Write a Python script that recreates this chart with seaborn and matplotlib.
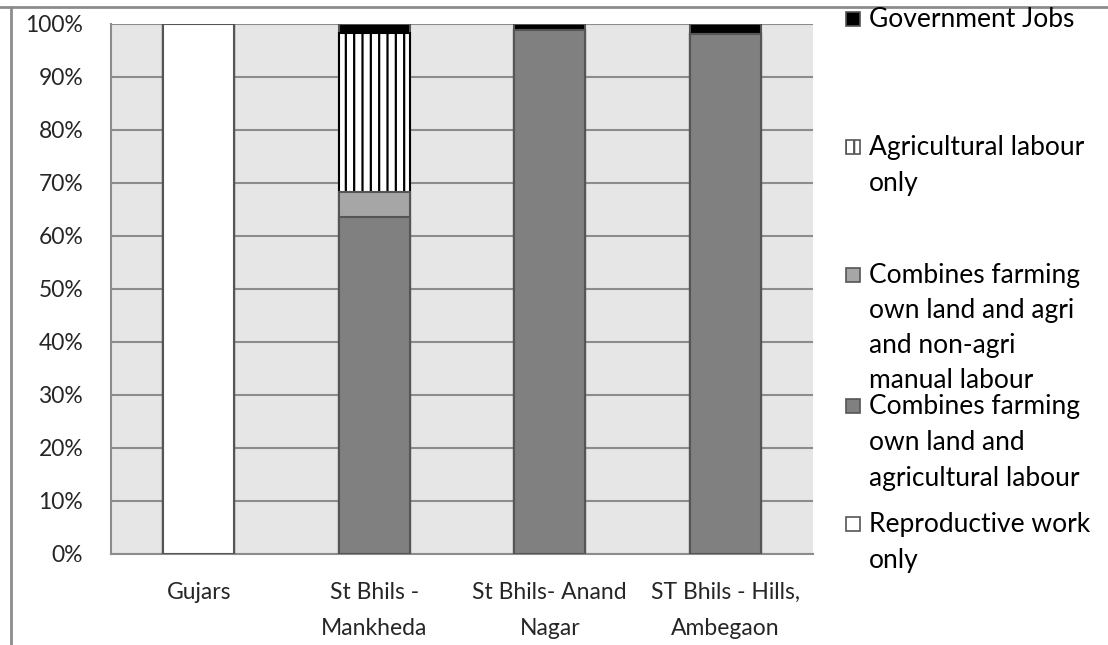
import matplotlib
matplotlib.use("Agg")
import matplotlib.pyplot as plt
import seaborn as sns
import pandas as pd
from matplotlib.patches import Rectangle
from matplotlib.lines import Line2D

# data (percent of women in each group)
groups = ["Gujars", "St Bhils -\nMankheda", "St Bhils- Anand\nNagar", "ST Bhils - Hills,\nAmbegaon"]
reproductive = [100.0, 0.0, 0.0, 0.0]
farm_agri = [0.0, 63.6, 98.9, 98.1]
farm_nonagri = [0.0, 4.7, 0.0, 0.0]
agri_only = [0.0, 30.0, 0.0, 0.0]
govt_jobs = [0.0, 1.7, 1.1, 1.9]

legend_labels = [
    ["Government Jobs"],
    ["Agricultural labour", "only"],
    ["Combines farming", "own land and agri", "and non-agri", "manual labour"],
    ["Combines farming", "own land and", "agricultural labour"],
    ["Reproductive work", "only"],
]

sns.set_style("white")
plt.rcParams["font.family"] = ["Lato", "DejaVu Sans"]
plt.rcParams["hatch.linewidth"] = 1.6

df = pd.DataFrame({
    "group": groups,
    "reproductive": reproductive,
    "farm_agri": farm_agri,
    "farm_nonagri": farm_nonagri,
    "agri_only": agri_only,
    "govt": govt_jobs,
})
# cumulative tops, drawn from the tallest down so each layer shows its own slice
df["c1"] = df["reproductive"]
df["c2"] = df["c1"] + df["farm_agri"]
df["c3"] = df["c2"] + df["farm_nonagri"]
df["c4"] = df["c3"] + df["agri_only"]
df["c5"] = df["c4"] + df["govt"]

W, H = 1108, 645
fig = plt.figure(figsize=(W / 100, H / 100), dpi=100)
ax = fig.add_axes([0.1002, 0.1411, 0.6336, 0.8217])
ax.set_facecolor("#e6e6e6")

edge = "#555555"
layers = [
    ("c5", "#000000", None),
    ("c4", "#ffffff", "||"),
    ("c3", "#a6a6a6", None),
    ("c2", "#808080", None),
    ("c1", "#ffffff", None),
]
for col, color, hatch in layers:
    sns.barplot(data=df, x="group", y=col, color=color, width=0.405,
                edgecolor=edge if hatch is None else "#000000",
                linewidth=1.5, hatch=hatch, saturation=1, ax=ax, zorder=3)

ax.set_ylim(0, 100)
ax.set_xlim(-0.5, 3.5)
ax.set_yticks(range(0, 101, 10))
ax.set_yticklabels([f"{v}%" for v in range(0, 101, 10)], fontsize=16.5)
ax.set_xticks(range(len(groups)))
ax.set_xticklabels(groups, fontsize=16.5, linespacing=1.9)
ax.yaxis.grid(True, color="#8c8c8c", linewidth=1.5, zorder=0)
ax.set_axisbelow(True)
ax.set_xlabel("")
ax.set_ylabel("")

ax.set_xticks([-0.5, 0.5, 1.5, 2.5, 3.5], minor=True)
ax.tick_params(axis="x", which="major", length=0, pad=20)
ax.tick_params(axis="x", which="minor", length=7, width=1.5, color="#8c8c8c", direction="out")
ax.tick_params(axis="y", length=6, width=1.5, color="#8c8c8c", pad=14)

for s in ["top", "right"]:
    ax.spines[s].set_visible(False)
for s in ["left", "bottom"]:
    ax.spines[s].set_color("#8c8c8c")
    ax.spines[s].set_linewidth(1.5)

# chart frame remains
fig.add_artist(Line2D([0, 1], [1 - 7 / H, 1 - 7 / H], transform=fig.transFigure,
                      color="#8c8c8c", linewidth=2))
fig.add_artist(Line2D([11 / W, 11 / W], [0, 1 - 7 / H], transform=fig.transFigure,
                      color="#8c8c8c", linewidth=2))

# legend drawn by hand like the Excel layout
leg_colors = ["#000000", "#ffffff", "#a6a6a6", "#808080", "#ffffff"]
leg_hatch = [None, "||", None, None, None]
baselines = [27, 155, 283, 414, 532]
line_gaps = [36, 36, 35, 36, 36]
for lines, col, h, b, gap in zip(legend_labels, leg_colors, leg_hatch, baselines, line_gaps):
    fig.add_artist(Rectangle((846 / W, 1 - (b - 1) / H), 14 / W, 14 / H,
                             transform=fig.transFigure, facecolor=col,
                             edgecolor="#555555", linewidth=1.2, hatch=h))
    for i, txt in enumerate(lines):
        fig.text(869 / W, 1 - (b + i * gap) / H, txt, fontsize=19,
                 va="baseline", ha="left", color="#000000")

fig.savefig("out.png", dpi=100)
